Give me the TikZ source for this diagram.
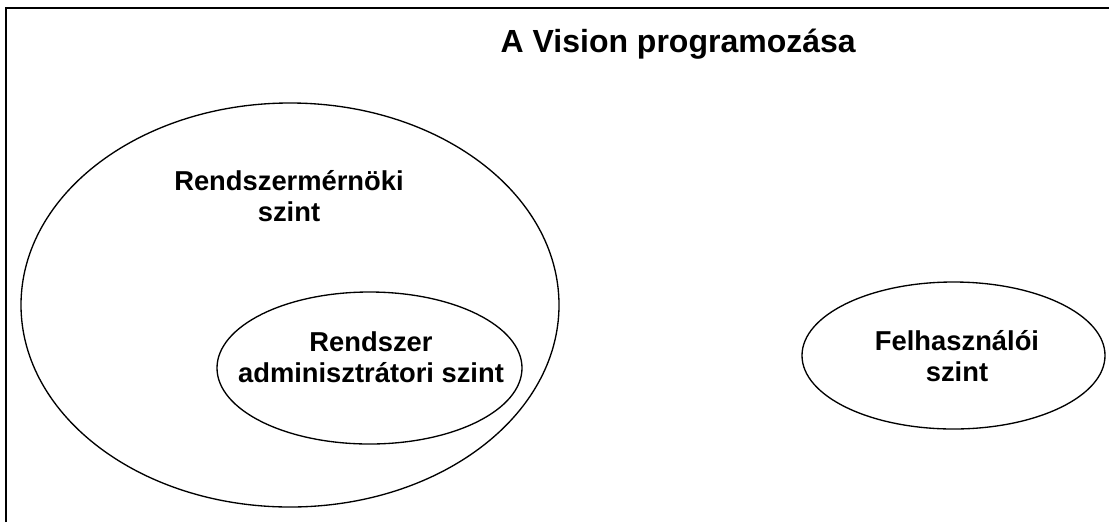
\documentclass[tikz,border=0pt]{standalone}
\usepackage{fontspec}
\setmainfont{Liberation Sans}

\begin{document}
\begin{tikzpicture}[x=.75pt,y=-.75pt,line width=1pt,
  lbl/.style={align=center,inner sep=0pt,font=\bfseries\fontsize{20.5}{23}\selectfont}]
\path[use as bounding box] (0,0) rectangle (1109,522);
\draw[line width=1.5pt] (6,522) -- (6,8) -- (1109,8);
\node[anchor=base west,inner sep=0pt,font=\bfseries\fontsize{24}{29}\selectfont] (title) at (500,52) {A Vision programozása};
\draw (290,305) ellipse [x radius=269,y radius=202];
\draw (369.5,368) ellipse [x radius=152.5,y radius=76];
\draw (953.5,355.5) ellipse [x radius=151.5,y radius=73.5];
\node[lbl] (mernok) at (289,196) {Rendszermérnöki\\szint};
\node[lbl] (admin) at (371,357) {Rendszer\\adminisztrátori szint};
\node[lbl] (felh) at (957,356) {Felhasználói\\szint};
\end{tikzpicture}
\end{document}
